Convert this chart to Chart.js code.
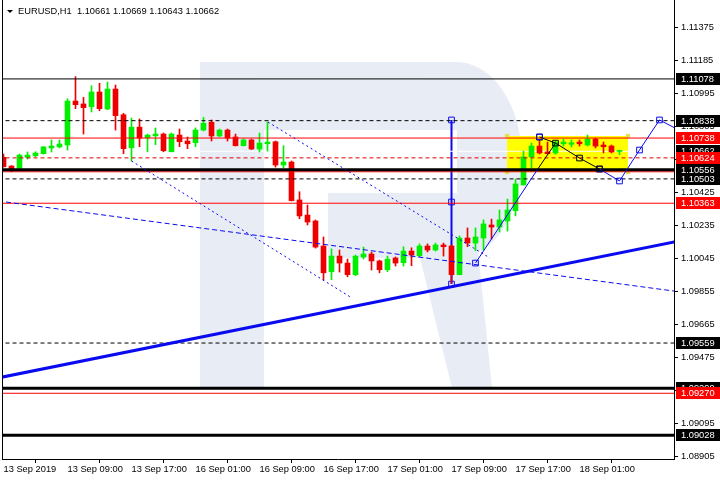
<!DOCTYPE html>
<html>
<head>
<meta charset="utf-8">
<title>EURUSD,H1</title>
<script src="https://cdn.jsdelivr.net/npm/chart.js@4.4.1/dist/chart.umd.min.js"></script>
<style>
  html, body { margin: 0; padding: 0; background: #fff; }
  #wrap { width: 720px; height: 480px; }
</style>
</head>
<body>
<div id="wrap"><canvas id="chart" width="720" height="480"></canvas></div>
<script>
// --- DATOS ---
const symbolName = 'EURUSD,H1';
const timeLabels = ['13 Sep 2019', '13 Sep 09:00', '13 Sep 17:00', '16 Sep 01:00', '16 Sep 09:00',
                    '16 Sep 17:00', '17 Sep 01:00', '17 Sep 09:00', '17 Sep 17:00', '18 Sep 01:00'];
const priceTicks = [1.11375, 1.11185, 1.10995, 1.10805, 1.10615, 1.10425, 1.10235,
                    1.10045, 1.09855, 1.09665, 1.09475, 1.09285, 1.09095, 1.08905];

const opens = [1.10627, 1.10577, 1.10564, 1.10627, 1.10636, 1.10648, 1.10681, 1.10687, 1.10698, 1.10951,
  1.10934, 1.10918, 1.11003, 1.10905, 1.11020, 1.10872, 1.10682, 1.10801, 1.10740, 1.10751,
  1.10761, 1.10659, 1.10755, 1.10721, 1.10711, 1.10784, 1.10829, 1.10750, 1.10784, 1.10744,
  1.10694, 1.10727, 1.10675, 1.10705, 1.10717, 1.10583, 1.10600, 1.10382, 1.10295, 1.10261,
  1.10117, 1.09969, 1.10059, 1.10019, 1.09952, 1.10054, 1.10071, 1.10031, 1.09981, 1.10048,
  1.10021, 1.10088, 1.10061, 1.10117, 1.10094, 1.10123, 1.10117, 1.09952, 1.10163, 1.10134,
  1.10163, 1.10238, 1.10226, 1.10261, 1.10320, 1.10468, 1.10629, 1.10692, 1.10658, 1.10652,
  1.10705, 1.10702, 1.10715, 1.10698, 1.10732, 1.10698, 1.10692, 1.10661];
const highs = [1.10646, 1.10580, 1.10646, 1.10658, 1.10659, 1.10689, 1.10727, 1.10727, 1.10964, 1.11091,
  1.10972, 1.11039, 1.11053, 1.11060, 1.11043, 1.10880, 1.10853, 1.10848, 1.10761, 1.10796,
  1.10767, 1.10767, 1.10790, 1.10744, 1.10796, 1.10857, 1.10842, 1.10790, 1.10790, 1.10761,
  1.10734, 1.10732, 1.10767, 1.10830, 1.10721, 1.10694, 1.10606, 1.10429, 1.10353, 1.10267,
  1.10169, 1.10100, 1.10094, 1.10042, 1.10065, 1.10111, 1.10082, 1.10036, 1.10059, 1.10054,
  1.10113, 1.10107, 1.10129, 1.10129, 1.10134, 1.10134, 1.10123, 1.10175, 1.10221, 1.10221,
  1.10267, 1.10272, 1.10324, 1.10387, 1.10502, 1.10663, 1.10709, 1.10732, 1.10715, 1.10721,
  1.10732, 1.10727, 1.10727, 1.10755, 1.10738, 1.10715, 1.10698, 1.10669];
const lows = [1.10570, 1.10544, 1.10564, 1.10617, 1.10631, 1.10646, 1.10658, 1.10681, 1.10669, 1.10907,
  1.10761, 1.10888, 1.10895, 1.10901, 1.10784, 1.10648, 1.10606, 1.10688, 1.10659, 1.10700,
  1.10659, 1.10659, 1.10688, 1.10677, 1.10688, 1.10779, 1.10721, 1.10746, 1.10721, 1.10692,
  1.10692, 1.10671, 1.10658, 1.10663, 1.10571, 1.10566, 1.10376, 1.10274, 1.10238, 1.10105,
  1.09921, 1.09923, 1.09967, 1.09940, 1.09946, 1.10042, 1.09979, 1.09963, 1.09969, 1.10002,
  1.10002, 1.10004, 1.10056, 1.10083, 1.10088, 1.10059, 1.09902, 1.09952, 1.10113, 1.10090,
  1.10094, 1.10157, 1.10198, 1.10203, 1.10290, 1.10468, 1.10566, 1.10646, 1.10646, 1.10646,
  1.10692, 1.10687, 1.10692, 1.10692, 1.10681, 1.10652, 1.10652, 1.10643];
const closes = [1.10573, 1.10560, 1.10640, 1.10640, 1.10652, 1.10687, 1.10692, 1.10704, 1.10951, 1.10930,
  1.10913, 1.11003, 1.10907, 1.11020, 1.10867, 1.10677, 1.10801, 1.10738, 1.10755, 1.10761,
  1.10665, 1.10761, 1.10717, 1.10705, 1.10784, 1.10823, 1.10750, 1.10784, 1.10738, 1.10694,
  1.10727, 1.10675, 1.10709, 1.10715, 1.10583, 1.10600, 1.10378, 1.10290, 1.10255, 1.10111,
  1.09963, 1.10059, 1.10019, 1.09952, 1.10059, 1.10071, 1.10031, 1.09981, 1.10042, 1.10019,
  1.10088, 1.10065, 1.10117, 1.10094, 1.10123, 1.10113, 1.09952, 1.10163, 1.10134, 1.10169,
  1.10244, 1.10226, 1.10267, 1.10324, 1.10474, 1.10629, 1.10692, 1.10652, 1.10648, 1.10715,
  1.10715, 1.10711, 1.10705, 1.10732, 1.10692, 1.10688, 1.10658, 1.10662];

// niveles horizontales
const blackSolidLevels = [1.11078];
const blackDashLevels = [1.10838, 1.10503, 1.09559];
const blackThickLevels = [1.10556, 1.09299, 1.09028];
const redSolidLevels = [1.10738, 1.10544, 1.10363, 1.09270];
const redDashLevels = [1.10624];
// etiquetas de precio en el eje
const blackTags = [1.11078, 1.10838, 1.10662, 1.10556, 1.10503, 1.09559, 1.09299, 1.09028];
const redTags = [1.10738, 1.10624, 1.10363, 1.09270];

// objetos dibujados (indice de vela, precio)
const trendX = [-10, 90], trendY = [1.09272, 1.10197];
const channelX = [0.31, 90], channelY = [1.10370, 1.09820];
const dot1X = [16, 43.56], dot1Y = [1.10606, 1.09818];
const dot2X = [33.06, 60.8], dot2Y = [1.10830, 1.10048];
const vertX = [56, 56, 56], vertY = [1.10842, 1.10370, 1.09898];
const waveAX = [59, 66.7], waveAY = [1.10019, 1.10554];
const waveBX = [66.7, 69], waveBY = [1.10554, 1.10709];
const waveCX = [67, 69, 72, 74.5], waveCY = [1.10744, 1.10709, 1.10623, 1.10560];
const waveDX = [74.5, 77, 79.5, 82, 86], waveDY = [1.10560, 1.10491, 1.10669, 1.10842, 1.10746];
const boxX = [62.94, 78.06], boxTop = 1.10750, boxBottom = 1.10543;

const X_MIN = -0.1875, X_MAX = 83.8125;
const Y_MIN = 1.08892, Y_MAX = 1.11532;

const FONT = '"Liberation Sans", Arial, sans-serif';
const BULL = '#00ee00', BEAR = '#ee0000', BLUE = '#0a0af0';

function pts(xs, ys) {
  return xs.map((x, i) => ({ x: x, y: ys[i] }));
}
function levelSet(values, color, width, dash, order) {
  return values.map(v => ({
    type: 'line', data: pts([-5, 95], [v, v]), borderColor: color, borderWidth: width,
    borderDash: dash, pointRadius: 0, clip: 0, order: order
  }));
}
function lineSet(xs, ys, color, width, dash, order, marker) {
  return {
    type: 'line', data: pts(xs, ys), borderColor: color, borderWidth: width, borderDash: dash,
    pointRadius: marker ? 4 : 0, pointStyle: 'rect', pointBorderColor: color,
    pointBackgroundColor: 'rgba(0,0,0,0)', pointBorderWidth: 1, tension: 0, clip: 0, order: order
  };
}
// quita el relleno automatico que Chart.js deja para las etiquetas
function noPadding(s) {
  s.paddingTop = 0; s.paddingBottom = 0; s.paddingLeft = 0; s.paddingRight = 0;
}

const candleColors = closes.map((c, i) => c >= opens[i] ? BULL : BEAR);

const datasets = [
  // rectangulo amarillo
  {
    type: 'line', data: pts(boxX, [boxTop, boxTop]), borderWidth: 0, pointRadius: 0,
    fill: { value: boxBottom }, backgroundColor: '#ffff00', clip: 0, order: 20
  },
  // asas del rectangulo
  {
    type: 'line', data: pts([boxX[0], boxX[1], boxX[0], boxX[1]], [boxTop, boxTop, boxBottom, boxBottom]),
    showLine: false, pointStyle: 'rect', pointRadius: 3, pointBorderWidth: 0,
    pointBackgroundColor: '#e8dc50', clip: 0, order: 19
  },
  lineSet(vertX, vertY, BLUE, 2, [], 15, true),
  // linea de precio actual
  ...levelSet([closes[closes.length - 1]], '#ffffff', 1, [], 12),
  {
    type: 'bar', data: lows.map((l, i) => ({ x: i, y: [l, highs[i]] })),
    backgroundColor: candleColors, barThickness: 1, grouped: false, order: 11
  },
  {
    type: 'bar', data: opens.map((o, i) => ({ x: i, y: [o, closes[i]] })),
    backgroundColor: candleColors, barThickness: 5, minBarLength: 1, grouped: false, order: 10
  },
  ...levelSet(blackSolidLevels, '#000', 1, [], 5),
  ...levelSet(blackDashLevels, '#000', 1, [4, 3], 5),
  ...levelSet(redSolidLevels, '#ff0000', 1, [], 5),
  ...levelSet(redDashLevels, '#e00000', 1, [4, 3], 5),
  ...levelSet(blackThickLevels, '#000', 3, [], 4),
  lineSet(trendX, trendY, BLUE, 3, [], 3, false),
  lineSet(channelX, channelY, BLUE, 1, [5, 3], 3, false),
  lineSet(dot1X, dot1Y, BLUE, 1, [2, 3], 3, false),
  lineSet(dot2X, dot2Y, BLUE, 1, [2, 3], 3, false),
  lineSet(waveAX, waveAY, BLUE, 1, [], 2, false),
  lineSet(waveBX, waveBY, '#000', 1, [], 2, false),
  lineSet(waveCX, waveCY, '#000', 1, [], 2, true),
  lineSet(waveDX, waveDY, BLUE, 1, [], 2, true),
  lineSet([waveAX[0]], [waveAY[0]], BLUE, 1, [], 1, true),
  lineSet([waveCX[0]], [waveCY[0]], BLUE, 1, [], 1, true)
];

// logo de fondo (marca de agua)
const watermark = {
  id: 'watermark',
  beforeDatasetsDraw(chart) {
    const ctx = chart.ctx, a = chart.chartArea;
    ctx.save();
    ctx.beginPath();
    ctx.rect(a.left, a.top, a.right - a.left, a.bottom - a.top);
    ctx.clip();
    ctx.fillStyle = 'rgb(232,237,245)';
    ctx.fillRect(200, 62, 64, 326);
    ctx.beginPath();
    ctx.moveTo(264, 62);
    ctx.lineTo(457, 62);
    ctx.ellipse(457, 160, 65, 98, 0, -Math.PI / 2, Math.PI / 2, false);
    ctx.lineTo(328, 258);
    ctx.lineTo(328, 193);
    ctx.lineTo(264, 193);
    ctx.closePath();
    ctx.fill();
    ctx.beginPath();
    ctx.moveTo(418, 250);
    ctx.lineTo(478, 250);
    ctx.lineTo(492, 388);
    ctx.lineTo(452, 388);
    ctx.closePath();
    ctx.fill();
    ctx.fillStyle = '#ffffff';
    ctx.fillRect(264, 130, 193, 63);
    ctx.restore();
  }
};

// marco, cabecera y etiquetas de precio
const overlay = {
  id: 'overlay',
  afterDraw(chart) {
    const ctx = chart.ctx, a = chart.chartArea, y = chart.scales.y;
    ctx.save();
    ctx.strokeStyle = '#000';
    ctx.lineWidth = 1;
    ctx.beginPath();
    ctx.moveTo(a.left + 0.5, a.top);
    ctx.lineTo(a.left + 0.5, a.bottom);
    ctx.stroke();

    // 1. cabecera
    const n = closes.length - 1;
    ctx.fillStyle = '#000';
    ctx.beginPath();
    ctx.moveTo(7, 10); ctx.lineTo(13, 10); ctx.lineTo(10, 13); ctx.closePath();
    ctx.fill();
    ctx.font = '9.3px ' + FONT;
    ctx.textBaseline = 'middle';
    ctx.textAlign = 'left';
    const head = symbolName + '  ' + [opens[n], highs[n], lows[n], closes[n]].map(v => v.toFixed(5)).join(' ');
    ctx.fillText(head, 18, 11);

    // 2. etiquetas
    const tag = (v, bg) => {
      const py = Math.round(y.getPixelForValue(v));
      ctx.fillStyle = bg;
      ctx.fillRect(a.right + 2, py - 6, 720 - a.right - 2, 12);
      ctx.fillStyle = '#fff';
      ctx.fillText(v.toFixed(5), a.right + 7, py + 0.5);
    };
    blackTags.forEach(v => tag(v, '#000'));
    redTags.forEach(v => tag(v, '#ff0000'));
    ctx.restore();
  }
};

Chart.defaults.font.family = FONT;
Chart.defaults.font.size = 9.3;
Chart.defaults.color = '#000';

new Chart(document.getElementById('chart'), {
  type: 'bar',
  data: { datasets: datasets },
  options: {
    responsive: false,
    animation: false,
    layout: { autoPadding: false, padding: { left: 2, top: 0, right: 0, bottom: 0 } },
    plugins: { legend: { display: false }, tooltip: { enabled: false } },
    scales: {
      x: {
        type: 'linear', min: X_MIN, max: X_MAX, offset: false,
        afterBuildTicks: s => { s.ticks = timeLabels.map((_, i) => ({ value: i * 8 })); },
        afterFit: s => { s.height = 21; noPadding(s); },
        ticks: { autoSkip: false, maxRotation: 0, align: 'start', padding: 1,
                 callback: v => timeLabels[Math.round(v / 8)] },
        grid: { drawOnChartArea: false, tickLength: 4, color: '#000' },
        border: { color: '#000' }
      },
      y: {
        position: 'right', min: Y_MIN, max: Y_MAX,
        afterBuildTicks: s => { s.ticks = priceTicks.map(v => ({ value: v })); },
        afterFit: s => { s.width = 46; noPadding(s); },
        ticks: { autoSkip: false, padding: 3, callback: v => v.toFixed(5) },
        grid: { drawOnChartArea: false, tickLength: 4, color: '#000' },
        border: { color: '#000' }
      }
    }
  },
  plugins: [watermark, overlay]
});
</script>
</body>
</html>
